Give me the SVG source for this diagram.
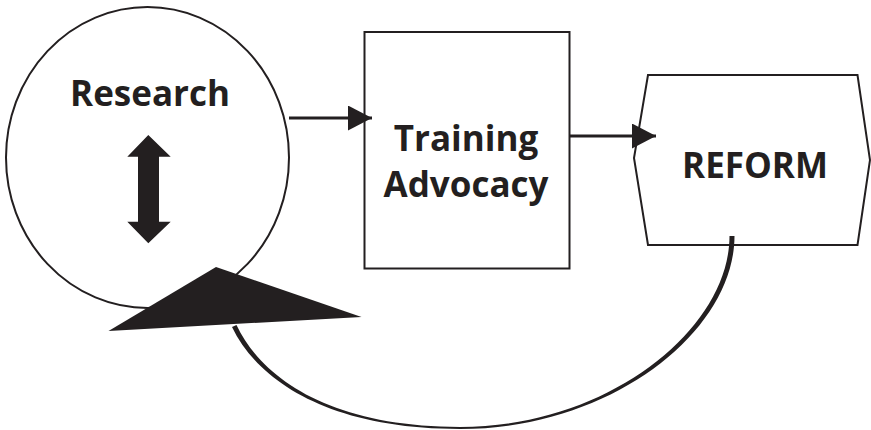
<svg xmlns="http://www.w3.org/2000/svg" width="871" height="430" viewBox="0 0 871 430">
<defs>
<style>
.shape{fill:#fff;stroke:#231f20;stroke-width:2}
.lbl{font-family:"Open Sans","Liberation Sans",sans-serif;font-weight:bold;font-size:35px;fill:#231f20;text-anchor:middle}
.conn{fill:none;stroke:#231f20;stroke-width:3}
.ink{fill:#231f20;stroke:none}
</style>
<marker id="ah" viewBox="0 0 24 25" refX="24" refY="12.5" markerWidth="24" markerHeight="25" markerUnits="userSpaceOnUse" orient="auto">
<path d="M0,0 L24,12.5 L0,25 Z" fill="#231f20"/>
</marker>
</defs>
<rect width="871" height="430" fill="#fff"/>
<g id="research">
<ellipse class="shape" cx="147.5" cy="157.5" rx="141.5" ry="150.5"/>
<text class="lbl" x="150" y="106">Research</text>
<path class="ink" d="M148.3,135 L170.7,156.7 L159,156.7 L159,221.7 L170.7,221.7 L148.3,243.3 L127.3,221.7 L138,221.7 L138,156.7 L127.3,156.7 Z"/>
</g>
<g id="training">
<rect class="shape" x="364.5" y="32" width="205" height="236.5"/>
<text class="lbl" x="466" y="151">Training</text>
<text class="lbl" x="466" y="197">Advocacy</text>
</g>
<g id="reform">
<path class="shape" d="M648,75 L857.5,75 L870,160 L857.5,245 L648,245 L634,158 Z"/>
<text class="lbl" x="755" y="178">REFORM</text>
</g>
<g id="connectors">
<path class="conn" d="M289,118 L372,118" marker-end="url(#ah)"/>
<path class="conn" d="M570,136 L656,136" marker-end="url(#ah)"/>
<path class="ink" d="M734.5,236 C734.5,331 612,429 460,429 C329,429 258,381 232,327 L236.5,325 C262,379 331,427 460,427 C608,427 729.5,329 729.5,236 Z"/>
<path class="ink" d="M216,267 L361.5,317 L108.5,331 Z"/>
</g>
</svg>
